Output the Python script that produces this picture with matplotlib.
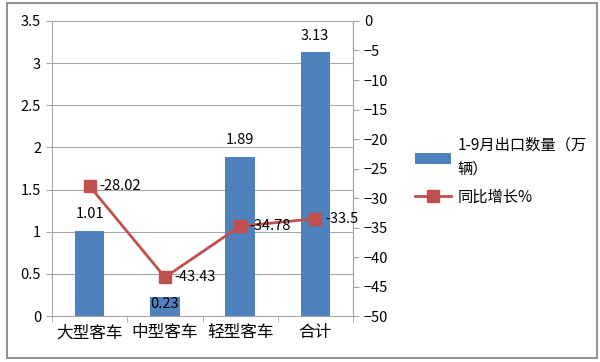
import matplotlib.pyplot as plt
from matplotlib.patches import Rectangle

plt.rcParams['font.family'] = ['Noto Sans CJK SC', 'DejaVu Sans']

categories = ['大型客车', '中型客车', '轻型客车', '合计']
export_qty = [1.01, 0.23, 1.89, 3.13]
yoy_growth = [-28.02, -43.43, -34.78, -33.5]
bar_label = '1-9月出口数量（万\n辆）'
line_label = '同比增长%'

bar_color = '#4F81BD'
line_color = '#C0504D'
grid_color = '#A6A6A6'

fig = plt.figure(figsize=(6, 3.62), dpi=100)
fig.patches.append(Rectangle((0.011, 0.01), 0.984, 0.982, transform=fig.transFigure,
                             fill=False, edgecolor='#7F7F7F', linewidth=1.2))

ax = fig.add_axes([0.087, 0.127, 0.501, 0.815])
x = range(len(categories))
bars = ax.bar(x, export_qty, width=0.39, color=bar_color, zorder=2, label=bar_label)
ax.set_ylim(0, 3.5)
ax.set_yticks([0, 0.5, 1, 1.5, 2, 2.5, 3, 3.5])
ax.set_yticklabels(['0', '0.5', '1', '1.5', '2', '2.5', '3', '3.5'])
ax.set_xlim(-0.5, 3.5)
ax.set_xticks([-0.5, 0.5, 1.5, 2.5, 3.5], minor=True)
ax.set_xticks(list(x))
ax.set_xticklabels(categories, fontsize=12)
ax.tick_params(axis='x', which='major', length=0, pad=6)
ax.tick_params(axis='x', which='minor', length=4, color=grid_color)
ax.tick_params(axis='y', length=4, color=grid_color, labelsize=10.5, pad=4)
ax.grid(axis='y', color=grid_color, linewidth=0.8, zorder=0)
ax.spines['top'].set_visible(False)
for s in ['left', 'right', 'bottom']:
    ax.spines[s].set_color(grid_color)

for i, v in enumerate(export_qty):
    dy = -5 if v < 0.5 else 12
    ax.annotate(f'{v:.2f}', (i, v), xytext=(0, dy), textcoords='offset points',
                ha='center', va='center', fontsize=10.5)

ax2 = ax.twinx()
ax2.plot(x, yoy_growth, color=line_color, linewidth=2, marker='s', markersize=8,
         markeredgecolor=line_color, label=line_label, zorder=3)
ax2.set_ylim(-50, 0)
ax2.set_yticks(range(-50, 1, 5))
ax2.tick_params(axis='y', length=4, color=grid_color, labelsize=10.5, pad=4)
for s in ['top', 'left', 'bottom']:
    ax2.spines[s].set_visible(False)
ax2.spines['right'].set_color(grid_color)

for i, v in enumerate(yoy_growth):
    ax2.annotate(f'{v:g}', (i, v), xytext=(7, 0), textcoords='offset points',
                 ha='left', va='center', fontsize=10.5)

h1, l1 = ax.get_legend_handles_labels()
h2, l2 = ax2.get_legend_handles_labels()
leg = fig.legend(h1 + h2, l1 + l2, loc='upper left', bbox_to_anchor=(0.668, 0.662),
                 frameon=False, fontsize=11, handlelength=2.4, handletextpad=0.4,
                 labelspacing=0.7)
for t in leg.get_texts():
    t.set_linespacing(1.6)

fig.savefig('out.png', dpi=100)
